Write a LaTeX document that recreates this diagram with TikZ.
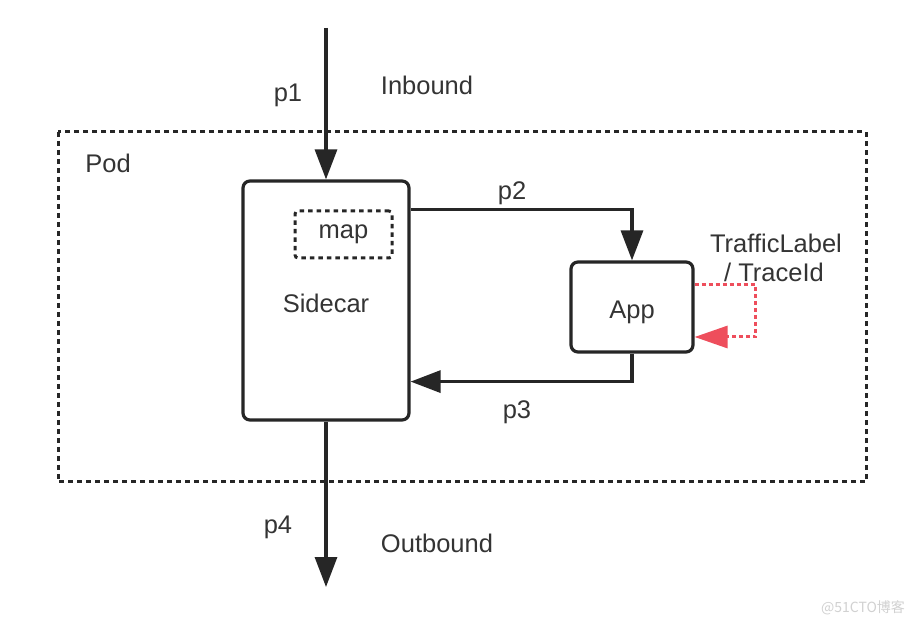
\documentclass[tikz,border=0pt]{standalone}
\usepackage{fontspec}
\setmainfont{Liberation Sans}
\newfontfamily\cjk{Noto Sans CJK SC}
\usetikzlibrary{arrows.meta,positioning,calc}
\definecolor{ln}{RGB}{38,38,38}
\definecolor{tx}{RGB}{52,52,52}
\definecolor{rd}{RGB}{238,78,92}
\tikzset{box/.style={draw=ln,line width=3.2pt,rounded corners=7pt,fill=white},
 podbox/.style={draw=ln,line width=3pt,dash pattern=on 5pt off 4pt},
 mapbox/.style={draw=ln,line width=3pt,dash pattern=on 4.5pt off 4pt,rounded corners=3pt,minimum width=97pt,minimum height=47pt},
 arr/.style={-{Triangle[length=30pt,width=22pt]},draw=ln,line width=3.2pt},
 loop/.style={-{Triangle[length=33pt,width=22pt]},draw=rd,line width=3pt,dash pattern=on 4pt off 3pt},
 lbl/.style={text=tx,inner sep=0pt},
 every node/.style={font=\fontsize{25.5}{30}\selectfont}}
\begin{document}
\begin{tikzpicture}[x=1pt,y=-1pt]
\useasboundingbox[fill=white] (0,0) rectangle (922,628);
\draw[podbox] (58,132) rectangle (866,482);
\node[box,minimum width=166pt,minimum height=239pt] (side) at (326,300.5) {};
\node[lbl] (sidetxt) at (326,303) {Sidecar};
\node[mapbox,lbl] (map) at (343.5,234.5) {map};
\node[box,minimum width=122pt,minimum height=90pt] (app) at (632,307) {};
\node[lbl] (apptxt) at (632,312) {App};
\coordinate (in) at (326,28);
\coordinate (out) at (326,587);
% flows
\draw[arr] (in) -- (side.north);
\draw[arr] (map.north -| side.east) -| (app.north);
\draw[arr] (app.south) |- ([yshift=40pt]side.south east);
\draw[arr] (side.south) -- (out);
\draw[loop] ([yshift=22pt]app.east) -- ++(61,0) |- ([yshift=-30pt]app.east);
% labels
\node[lbl] (p1) at (288,95) {p1};
\node[lbl] (inb) at (427,85) {Inbound};
\node[lbl] (pod) at (108,163) {Pod};
\node[lbl] (p2) at (512,193) {p2};
\node[lbl] (tl) at (776,243) {TrafficLabel};
\node[lbl] (ti) at (774,272) {/ TraceId};
\node[lbl] (p3) at (517,412) {p3};
\node[lbl] (p4) at (278,527) {p4};
\node[lbl] (outb) at (437,543) {Outbound};
\node[lbl,text=black!18,font=\cjk\fontsize{14}{16}\selectfont] (wm) at (863,608) {@51CTO博客};
\end{tikzpicture}
\end{document}
